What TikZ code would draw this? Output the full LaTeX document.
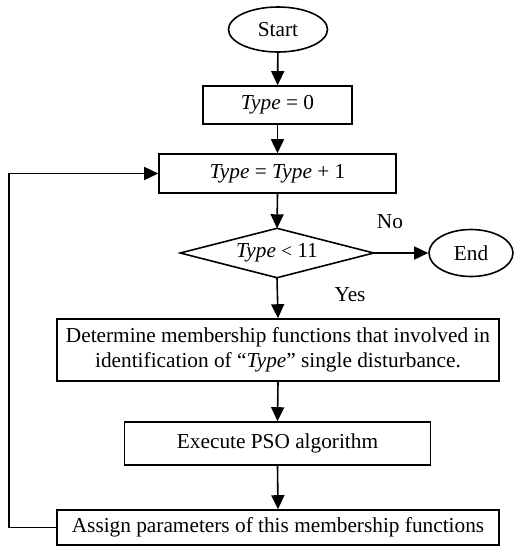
\documentclass[tikz,border=0pt]{standalone}
\usepackage{fontspec}
\setmainfont{Liberation Serif}
\usetikzlibrary{shapes.geometric,arrows.meta}
\begin{document}
\begin{tikzpicture}[x=1pt,y=-1pt,
  every node/.style={font=\fontsize{21.3}{24.5}\selectfont},
  procbox/.style={draw,line width=1.6pt,rectangle,inner sep=0pt,align=center},
  termbox/.style={draw,line width=1.6pt,ellipse,inner sep=0pt},
  arr/.style={line width=1.6pt,-{Triangle[length=14pt,width=13pt]}},
  lbl/.style={inner sep=0pt}]
\useasboundingbox (0,0) rectangle (514,547);
\node[termbox,minimum width=99pt,minimum height=45pt] (start) at (278,29.5) {Start};
\node[procbox,minimum width=149pt,minimum height=38pt] (t0) at (277.5,105) {\textit{Type} = 0};
\node[procbox,minimum width=237pt,minimum height=39pt] (t1) at (277.5,173.5) {\textit{Type} = \textit{Type} + 1};
\node[inner sep=0pt,minimum width=193pt,minimum height=49pt] (dec) at (277,253) {\textit{Type} {\fontsize{19}{20}\selectfont<} 11};
\draw[line width=1.6pt,line join=miter] (dec.north) -- (dec.east) -- (dec.south) -- (dec.west) -- cycle;
\node[termbox,minimum width=84pt,minimum height=47pt] (end) at (471,253) {End};
\node[lbl] (no) at (390,222) {No};
\node[lbl] (yes) at (350,295) {Yes};
\node[procbox,minimum width=442pt,minimum height=62pt] (det) at (278,350) {Determine membership functions that involved in\\identification of ``\textit{Type}'' single disturbance.};
\node[procbox,minimum width=306pt,minimum height=43pt] (pso) at (277.5,443.5) {Execute PSO algorithm};
\node[procbox,minimum width=442pt,minimum height=35pt] (asg) at (278,527.5) {Assign parameters of this membership functions};
\coordinate (loop) at (9,527.5);
\draw[arr] (start) -- (t0);
\draw[arr] (t0) -- (t1);
\draw[arr] (t1.south) -- (dec.north);
\draw[arr] (dec.east) -- (end.west);
\draw[arr] (dec.south) -- (det.north);
\draw[arr] (det.south) -- (pso.north);
\draw[arr] (pso.south) -- (asg.north);
\draw[arr] (asg.west) -- (loop) |- (t1.west);
\end{tikzpicture}
\end{document}
